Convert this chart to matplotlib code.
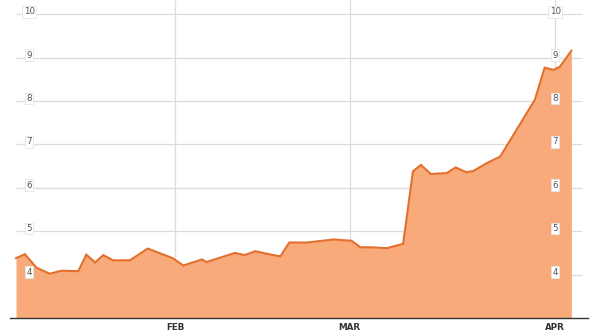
import matplotlib
matplotlib.use("Agg")
import matplotlib.pyplot as plt
from matplotlib.lines import Line2D

# trading-day index (x) and value (y)
days = [0, 1.0, 2.3, 3.8, 5.1, 7.0, 7.9, 8.9, 9.8, 10.9, 12.8, 14.8, 17.6, 18.8,
        20.9, 21.4, 24.6, 25.7, 26.9, 28.2, 29.7, 30.7, 32.7, 35.7, 37.7, 38.7,
        39.8, 41.7, 43.5, 44.6, 45.5, 46.6, 48.4, 49.4, 50.6, 51.4, 52.9, 54.4,
        58.3, 59.4, 60.4, 61.1, 62.4]
values = [4.38, 4.47, 4.16, 4.02, 4.09, 4.08, 4.46, 4.28, 4.45, 4.33, 4.33, 4.60,
          4.38, 4.21, 4.35, 4.29, 4.50, 4.45, 4.54, 4.48, 4.42, 4.74, 4.74, 4.81,
          4.78, 4.63, 4.63, 4.61, 4.71, 6.38, 6.53, 6.32, 6.34, 6.47, 6.36, 6.39,
          6.57, 6.72, 8.03, 8.77, 8.72, 8.79, 9.16]
month_labels = ["FEB", "MAR", "APR"]
month_pos = [17.9, 37.5, 60.6]
y_ticks = [4, 5, 6, 7, 8, 9, 10]

fig = plt.figure(figsize=(5.93, 3.32), dpi=100)
W, H = 593, 332
ax = fig.add_axes([10 / W, 1 - 318 / H, (588 - 10) / W, 318 / H])
ax.set_xlim(-0.674, 64.27)
ax.set_ylim(3, 10.33)
for s in ax.spines.values():
    s.set_visible(False)
ax.set_xticks([])
ax.set_yticks([])

grid_c = "#dcdcdc"
ax.hlines(y_ticks, 0, 63.6, colors=grid_c, lw=0.9, zorder=1)
ax.vlines(month_pos, 3, 10.33, colors=grid_c, lw=0.9, zorder=1)

ax.fill_between(days, values, 3, color="#F9AA7A", lw=0, zorder=2)
ax.plot(days, values, color="#E2702C", lw=1.5, zorder=3, solid_joinstyle="miter")

box = dict(boxstyle="square,pad=0.15", fc="white", ec="#e4e4e4", lw=0.6)
for v in y_ticks:
    ax.text(1.5, v + 0.06, str(v), ha="center", va="center", fontsize=6.3,
            color="#555555", bbox=box, zorder=4)
    ax.text(month_pos[2], v + 0.06, str(v), ha="center", va="center", fontsize=6.3,
            color="#555555", bbox=box, zorder=4)

for lab, p in zip(month_labels, month_pos):
    ax.text(p, 3, lab, transform=ax.transData, ha="center", va="top",
            fontsize=6.3, fontweight="bold", color="#333333")

# bottom axis line
fig.add_artist(Line2D([10 / W, 588 / W], [1 - 318 / H, 1 - 318 / H],
                      color="#333333", lw=1.0))

# shift month labels slightly down
for t in ax.texts:
    if t.get_text() in month_labels:
        t.set_y(2.88)

fig.savefig("out.png", dpi=100)
